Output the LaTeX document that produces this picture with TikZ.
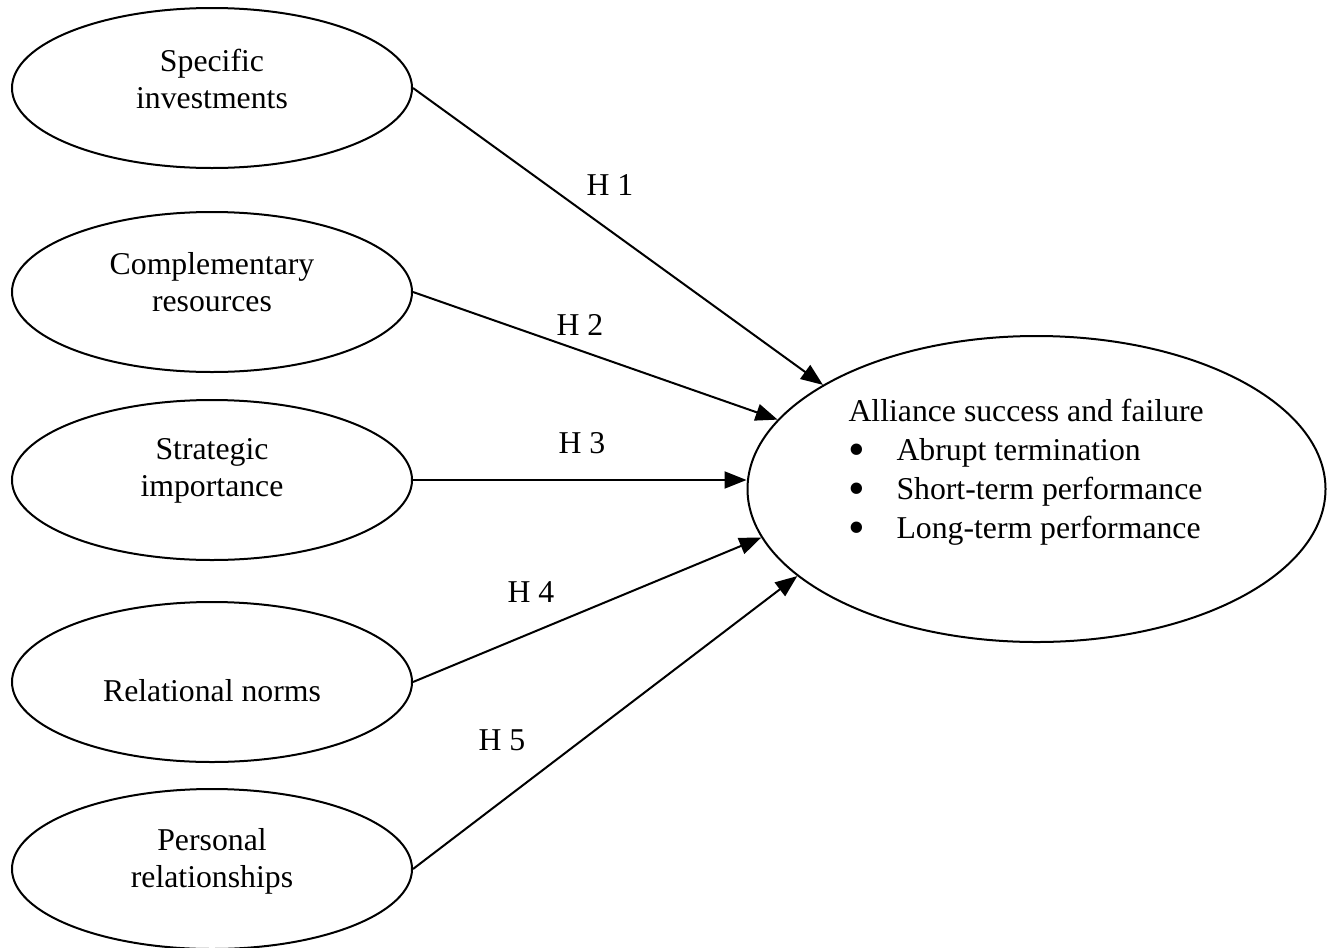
\documentclass[tikz,border=0pt]{standalone}
\usepackage{fontspec}
\setmainfont{Liberation Serif}
\usetikzlibrary{arrows.meta,shapes.geometric}
\newcommand{\bigbul}{\makebox[19.2pt][l]{\smash{\raisebox{-2pt}{\scalebox{1.5}{\textbullet}}}}}
\begin{document}
\begin{tikzpicture}[x=0.4pt,y=-0.4pt,
  ell/.style={draw,ellipse,line width=0.8pt,minimum width=160pt,minimum height=64pt,inner sep=0pt},
  lbl/.style={anchor=north,align=center,inner sep=0pt,font=\fontsize{12.7}{14.8}\selectfont},
  hyp/.style={anchor=base,inner sep=0pt,font=\fontsize{12.7}{14.8}\selectfont},
  arr/.style={line width=0.8pt,-{Triangle[length=8.8pt,width=6.8pt]}}]
\useasboundingbox (0,0) rectangle (1333,947);
% left ellipses
\node[ell] (s1) at (212,88) {};
\node[ell] (s2) at (212,292) {};
\node[ell] (s3) at (212,480) {};
\node[ell] (s4) at (212,682) {};
\node[ell] (s5) at (212,869) {};
\node[lbl] (t1) at (212,49) {Specific\\investments};
\node[lbl] (t2) at (212,252) {Complementary\\resources};
\node[lbl] (t3) at (212,438) {Strategic\\importance};
\node[lbl] (t4) at (212,679) {Relational norms};
\node[lbl] (t5) at (212,828) {Personal\\relationships};
% right ellipse
\node[draw,ellipse,line width=0.8pt,minimum width=231.2pt,minimum height=122.4pt,inner sep=0pt] (out) at (1036.5,489) {};
\node[anchor=north west,align=left,inner sep=0pt,font=\fontsize{12.7}{15.5}\selectfont] (tout) at (848,399)
  {Alliance success and failure\\
   \bigbul Abrupt termination\\
   \bigbul Short-term performance\\
   \bigbul Long-term performance};
% arrows
\draw[arr] (s1.east) -- (out.154.2);
\draw[arr] (s2.east) -- (out.165.6);
\draw[arr] (s3.east) -- (s3.east -| out.west);
\draw[arr] (s4.east) -- (out.190.6);
\draw[arr] (s5.east) -- (out.200.3);
% labels
\node[hyp] (h1) at (610,195) {H 1};
\node[hyp] (h2) at (580,335) {H 2};
\node[hyp] (h3) at (582,453) {H 3};
\node[hyp] (h4) at (531,602) {H 4};
\node[hyp] (h5) at (502,750) {H 5};
\end{tikzpicture}
\end{document}
